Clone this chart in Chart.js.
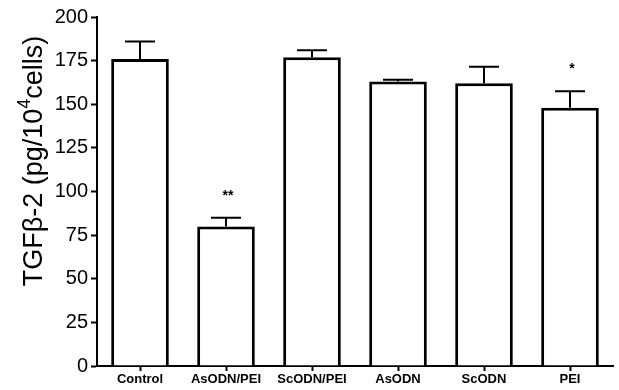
<!DOCTYPE html>
<html>
<head>
<meta charset="utf-8">
<script src="https://cdn.jsdelivr.net/npm/chart.js@4/dist/chart.umd.min.js"></script>
<style>
html,body{margin:0;padding:0;background:#fff;}
#wrap{width:619px;height:390px;position:relative;}
</style>
</head>
<body>
<div id="wrap"><canvas id="c" width="619" height="390"></canvas></div>
<script>
const categories = ["Control", "AsODN/PEI", "ScODN/PEI", "AsODN", "ScODN", "PEI"];
const means = [176, 80, 177, 163, 162, 148];
const errorUpper = [10, 5, 4, 1, 9.5, 9.5];
const significance = ["", "**", "", "", "", "*"];
const yTicks = [0, 25, 50, 75, 100, 125, 150, 175, 200];

const errorPlugin = {
  id: 'errorBars',
  afterDatasetsDraw(chart) {
    const ctx = chart.ctx;
    const meta = chart.getDatasetMeta(0);
    const y = chart.scales.y;
    ctx.save();
    ctx.strokeStyle = '#000';
    ctx.lineWidth = 2;
    ctx.fillStyle = '#000';
    meta.data.forEach((bar, i) => {
      const top = y.getPixelForValue(means[i]);
      const capY = y.getPixelForValue(means[i] + errorUpper[i]);
      ctx.beginPath();
      ctx.moveTo(bar.x, top);
      ctx.lineTo(bar.x, capY);
      ctx.moveTo(bar.x - 15, capY);
      ctx.lineTo(bar.x + 15, capY);
      ctx.stroke();
      if (significance[i]) {
        ctx.font = 'bold 14px "Liberation Sans", Arial, sans-serif';
        ctx.textAlign = 'center';
        ctx.textBaseline = 'middle';
        ctx.fillText(significance[i], bar.x + 2, capY - 22);
      }
    });
    ctx.restore();
  }
};

const titlePlugin = {
  id: 'yTitle',
  afterDraw(chart) {
    const ctx = chart.ctx;
    ctx.save();
    ctx.translate(35, 161);
    ctx.rotate(-Math.PI / 2);
    ctx.fillStyle = '#000';
    ctx.textBaseline = 'middle';
    const big = '27px "Liberation Sans", Arial, sans-serif';
    const small = '18px "Liberation Sans", Arial, sans-serif';
    const p1 = 'TGF\u03B2-2 (pg/10', p2 = '4', p3 = 'cells)';
    ctx.font = big; const w1 = ctx.measureText(p1).width; const w3 = ctx.measureText(p3).width;
    ctx.font = small; const w2 = ctx.measureText(p2).width;
    let x = -(w1 + w2 + w3) / 2;
    ctx.font = big; ctx.textAlign = 'left';
    ctx.fillText(p1, x, 0); x += w1;
    ctx.font = small; ctx.fillText(p2, x, -10); x += w2;
    ctx.font = big; ctx.fillText(p3, x, 0);
    ctx.restore();
  }
};

new Chart(document.getElementById('c'), {
  type: 'bar',
  data: {
    labels: categories,
    datasets: [{
      data: means,
      backgroundColor: '#fff',
      borderColor: '#000',
      borderWidth: 3,
      barPercentage: 0.67,
      categoryPercentage: 1.0
    }]
  },
  options: {
    responsive: false,
    animation: false,
    devicePixelRatio: 1,
    layout: { padding: { top: 17, right: 6, left: 0, bottom: 0 } },
    plugins: { legend: { display: false }, tooltip: { enabled: false } },
    scales: {
      x: {
        offset: true,
        grid: { display: true, drawOnChartArea: false, offset: false, tickLength: 5, tickWidth: 2, tickColor: '#000' },
        border: { display: true, color: '#000', width: 2 },
        ticks: { color: '#000', font: { family: '"Liberation Sans", Arial, sans-serif', size: 13, weight: 'bold' }, padding: 1, maxRotation: 0, autoSkip: false },
        afterFit(s) { s.height = 24; }
      },
      y: {
        min: 0, max: 200,
        afterBuildTicks(s) { s.ticks = yTicks.map(v => ({ value: v })); },
        grid: { display: true, drawOnChartArea: false, tickLength: 6, tickWidth: 2, tickColor: '#000' },
        border: { display: true, color: '#000', width: 2 },
        ticks: { color: '#000', font: { family: '"Liberation Sans", Arial, sans-serif', size: 20 }, padding: 3 },
        afterFit(s) { s.width = 97; }
      }
    }
  },
  plugins: [errorPlugin, titlePlugin]
});
</script>
</body>
</html>
